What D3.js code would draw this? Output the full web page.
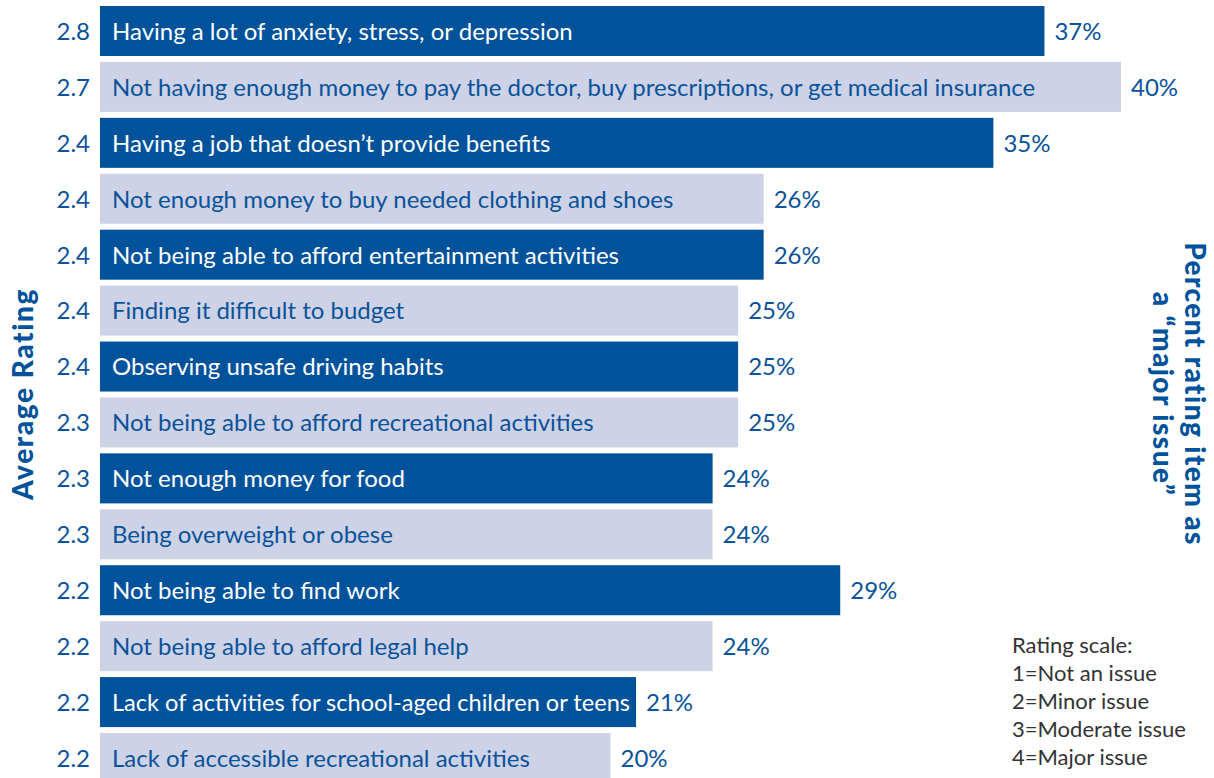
<!DOCTYPE html>
<html>
<head>
<meta charset="utf-8">
<script src="https://cdn.jsdelivr.net/npm/d3@7"></script>
<style>
  html, body { margin: 0; padding: 0; background: #fff; overflow: hidden; }
  svg { display: block; font-family: Lato, "Noto Sans", sans-serif; }
</style>
</head>
<body>
<div id="chart"></div>
<script>
// Items, in display order (top to bottom)
const items = [
  "Having a lot of anxiety, stress, or depression",
  "Not having enough money to pay the doctor, buy prescriptions, or get medical insurance",
  "Having a job that doesn\u2019t provide benefits",
  "Not enough money to buy needed clothing and shoes",
  "Not being able to afford entertainment activities",
  "Finding it difficult to budget",
  "Observing unsafe driving habits",
  "Not being able to afford recreational activities",
  "Not enough money for food",
  "Being overweight or obese",
  "Not being able to find work",
  "Not being able to afford legal help",
  "Lack of activities for school-aged children or teens",
  "Lack of accessible recreational activities"
];
// Average rating (1-4 scale)
const ratings = [2.8, 2.7, 2.4, 2.4, 2.4, 2.4, 2.4, 2.3, 2.3, 2.3, 2.2, 2.2, 2.2, 2.2];
// Percent rating item as a "major issue"
const majorPct = [37, 40, 35, 26, 26, 25, 25, 25, 24, 24, 29, 24, 21, 20];

const legendLines = ["Rating scale:", "1=Not an issue", "2=Minor issue", "3=Moderate issue", "4=Major issue"];

const width = 1214, height = 778;
const dark = "#00529b", light = "#cdd2e7", textBlue = "#0a5299";

const svg = d3.select("#chart").append("svg")
  .attr("width", width).attr("height", height);

const x = d3.scaleLinear().domain([0, 40]).range([100, 1121]);
const y = d3.scaleBand()
  .domain(d3.range(items.length))
  .range([6, 783])
  .paddingInner(0.106)
  .paddingOuter(0);

const rows = svg.selectAll("g.row")
  .data(items.map((d, i) => ({ label: d, rating: ratings[i], pct: majorPct[i], i })))
  .join("g")
  .attr("class", "row")
  .attr("transform", d => `translate(0,${y(d.i)})`);

rows.append("rect")
  .attr("x", x(0))
  .attr("width", d => x(d.pct) - x(0))
  .attr("height", y.bandwidth())
  .attr("fill", d => d.i % 2 === 0 ? dark : light);

rows.append("text")
  .attr("class", "item")
  .attr("x", x(0) + 12)
  .attr("y", y.bandwidth() / 2)
  .attr("dy", "0.37em")
  .attr("font-size", 24)
  .attr("fill", d => d.i % 2 === 0 ? "#fff" : textBlue)
  .text(d => d.label)
  .each(function (d) {
    // keep the label inside its bar (fonts differ from the original)
    const room = x(d.pct) - x(0) - 18;
    if (this.getComputedTextLength() > room) {
      d3.select(this).attr("textLength", room).attr("lengthAdjust", "spacingAndGlyphs");
    }
  });

rows.append("text")
  .attr("x", 90)
  .attr("y", y.bandwidth() / 2)
  .attr("dy", "0.37em")
  .attr("text-anchor", "end")
  .attr("font-size", 24)
  .attr("fill", textBlue)
  .text(d => d3.format(".1f")(d.rating));

rows.append("text")
  .attr("x", d => x(d.pct) + 10)
  .attr("y", y.bandwidth() / 2)
  .attr("dy", "0.37em")
  .attr("font-size", 24)
  .attr("fill", textBlue)
  .text(d => d.pct + "%");

// Axis titles
svg.append("text")
  .attr("transform", "translate(33,394) rotate(-90)")
  .attr("text-anchor", "middle")
  .attr("font-size", 28)
  .attr("font-weight", 900)
  .attr("letter-spacing", 1.6)
  .attr("fill", dark)
  .text("Average Rating");

const rt = svg.append("text")
  .attr("transform", "translate(1185,394) rotate(90)")
  .attr("text-anchor", "middle")
  .attr("font-size", 28)
  .attr("font-weight", 900)
  .attr("letter-spacing", 1.4)
  .attr("fill", dark);
rt.append("tspan").attr("x", 0).attr("y", 0).text("Percent rating item as");
rt.append("tspan").attr("x", 0).attr("y", 32).text("a \u201Cmajor issue\u201D");

// Rating scale note
svg.append("g")
  .selectAll("text")
  .data(legendLines)
  .join("text")
  .attr("x", 1012)
  .attr("y", (d, i) => 653 + i * 28)
  .attr("font-size", 22)
  .attr("fill", "#333")
  .text(d => d);
</script>
</body>
</html>
